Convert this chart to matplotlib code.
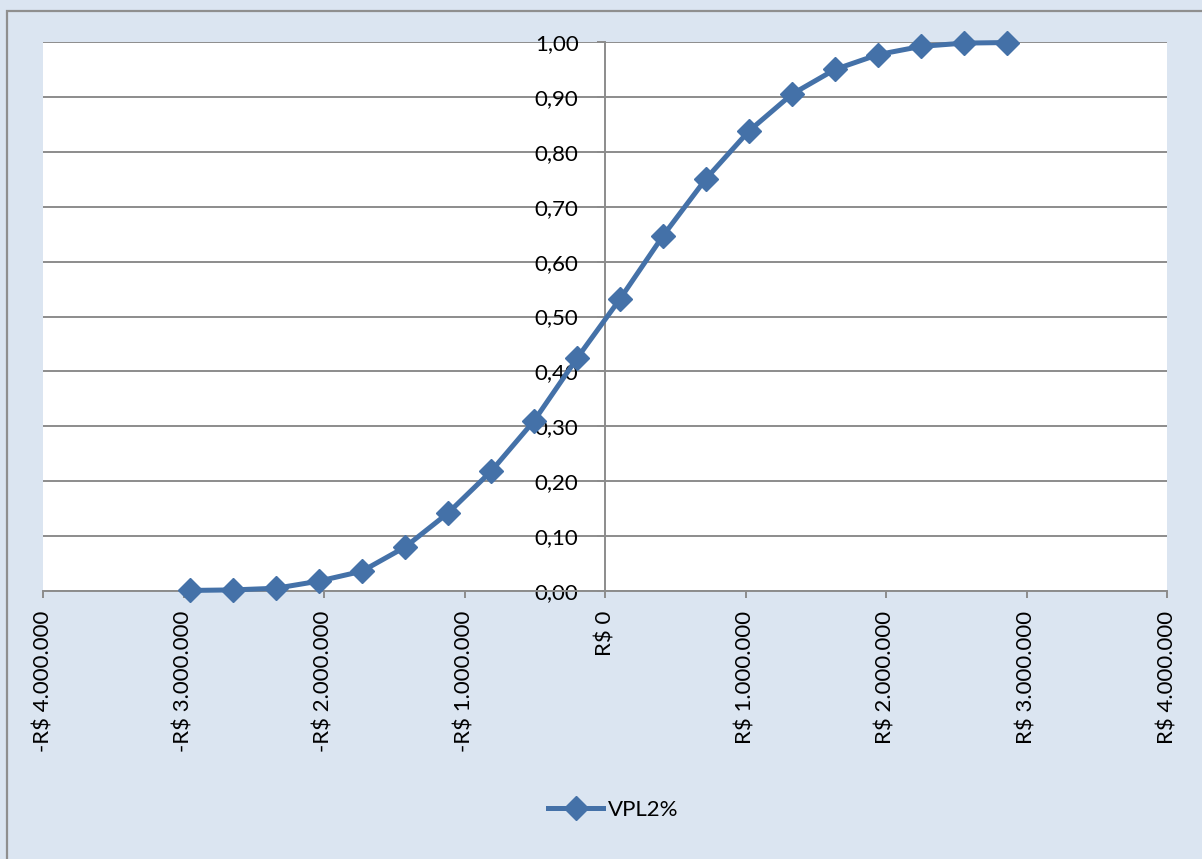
import matplotlib.pyplot as plt
from matplotlib.patches import Rectangle
from matplotlib.ticker import FuncFormatter

# VPL values (R$) and cumulative probability
vpl = [-2954000, -2648000, -2342000, -2036000, -1730000, -1423000, -1117000,
       -811000, -505000, -199000, 107000, 413000, 719000, 1025000, 1331000,
       1637000, 1943000, 2249000, 2555000, 2861000]
prob = [0.001, 0.002, 0.005, 0.018, 0.036, 0.080, 0.142, 0.218, 0.310, 0.424,
        0.532, 0.647, 0.751, 0.838, 0.905, 0.950, 0.977, 0.992, 0.998, 0.999]
series_name = "VPL2%"

x_ticks = [-4e6, -3e6, -2e6, -1e6, 0, 1e6, 2e6, 3e6, 4e6]
y_ticks = [0.0, 0.1, 0.2, 0.3, 0.4, 0.5, 0.6, 0.7, 0.8, 0.9, 1.0]

BG = '#dbe5f1'
LINE = '#4471a8'
GRID = '#8c8c8c'

plt.rcParams['font.family'] = ['Lato', 'DejaVu Sans']

W, H = 1202, 859
fig = plt.figure(figsize=(W / 100, H / 100), dpi=100, facecolor=BG)

# outer chart border (only top and left edges visible)
fig.patches.append(Rectangle((6.5 / W, -0.1), 2.0, 1.1 - 11.5 / H,
                             transform=fig.transFigure, fill=False,
                             edgecolor='#8f8f8f', linewidth=1.6))

ax = fig.add_axes([43 / W, 1 - 591 / H, (1167 - 43) / W, (591 - 42) / H])
ax.set_facecolor('white')

ax.plot(vpl, prob, color=LINE, linewidth=3.6, marker='D', markersize=12,
        markeredgecolor=LINE, label=series_name, zorder=5, clip_on=False)

ax.set_xlim(-4e6, 4e6)
ax.set_ylim(0, 1)
ax.set_xticks(x_ticks)
ax.set_yticks(y_ticks)


def fmt_money(v, pos):
    s = f"{abs(int(v)):,}".replace(",", ".")
    return ("-R$ " if v < 0 else "R$ ") + s


ax.xaxis.set_major_formatter(FuncFormatter(fmt_money))
ax.yaxis.set_major_formatter(FuncFormatter(lambda v, p: f"{v:.2f}".replace(".", ",")))

ax.grid(axis='y', color=GRID, linewidth=1.4)
ax.set_axisbelow(True)

for side in ['top', 'right']:
    ax.spines[side].set_visible(False)
ax.spines['left'].set_position(('data', 0))
ax.spines['left'].set_color(GRID)
ax.spines['left'].set_linewidth(1.4)
ax.spines['bottom'].set_color(GRID)
ax.spines['bottom'].set_linewidth(1.4)

ax.tick_params(axis='x', direction='out', length=5, width=1.4, color=GRID,
               labelsize=16, labelrotation=90, pad=9)
ax.tick_params(axis='y', direction='out', length=6, width=1.4, color=GRID,
               labelsize=16, pad=13)

ax.legend(loc='center', bbox_to_anchor=(0.51, 1 - 810 / H),
          bbox_transform=fig.transFigure, frameon=False, fontsize=16,
          handlelength=2.5, handletextpad=0.2)

fig.savefig('out.png', dpi=100, facecolor=BG)
